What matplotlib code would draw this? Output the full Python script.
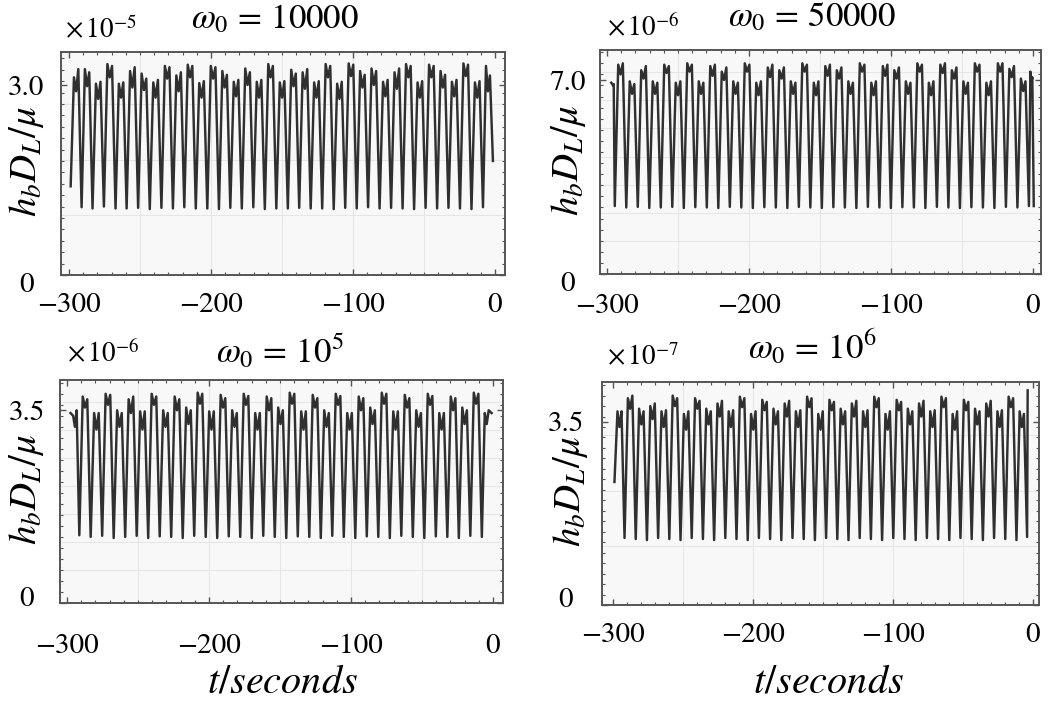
import matplotlib
matplotlib.use("Agg")
import matplotlib.pyplot as plt
from matplotlib.ticker import MultipleLocator
from matplotlib.transforms import ScaledTranslation

plt.rcParams["font.family"] = ["STIXGeneral", "DejaVu Serif"]
plt.rcParams["mathtext.fontset"] = "stix"

# ---------------------------------------------------------------- data
# Times (s) of the deep minima, and the strain value reached there.
# Between two minima the waveform has an "M"-shaped crest:
# left peak, central notch, right peak.

# omega_0 = 10000   (units of 1e-5)
w1_start = (-298.8, 1.40)
w1_end = (-1.5, 1.80)
w1_dip_t = [-291.1, -283.4, -275.4, -267.2, -259.4, -251.3, -243.1, -234.9,
            -226.8, -218.8, -210.7, -202.6, -194.4, -186.4, -178.3, -170.2,
            -162.1, -154.0, -145.9, -137.9, -129.8, -121.7, -113.6, -105.5,
            -97.4, -89.4, -81.3, -73.2, -65.1, -57.0, -48.9, -40.8,
            -32.8, -24.7, -16.6, -8.5]
w1_dip_y = [1.07, 1.05, 1.08, 1.05, 1.05, 1.06, 1.04, 1.06,
            1.05, 1.07, 1.05, 1.05, 1.04, 1.06, 1.05, 1.07,
            1.04, 1.05, 1.05, 1.06, 1.05, 1.05, 1.04, 1.06,
            1.05, 1.07, 1.05, 1.06, 1.05, 1.04, 1.06, 1.05,
            1.06, 1.05, 1.04, 1.07]
w1_peak_l = [3.12, 3.25, 3.02, 3.33, 3.02, 3.22, 3.18, 3.04, 3.30, 3.15,
             3.32, 3.03, 3.30, 3.22, 3.05, 3.26, 3.05, 3.33, 3.04, 3.24,
             3.20, 3.04, 3.33, 3.02, 3.34, 3.22, 3.26, 3.05, 3.20, 3.33,
             3.04, 3.32, 3.22, 3.05, 3.34, 3.04, 3.30]
w1_notch = [2.90, 2.98, 2.78, 3.12, 2.80, 2.96, 2.92, 2.80, 3.10, 2.90,
            3.12, 2.80, 3.10, 2.96, 2.82, 3.00, 2.80, 3.12, 2.80, 2.98,
            2.94, 2.80, 3.12, 2.78, 3.14, 2.96, 3.00, 2.82, 2.94, 3.12,
            2.80, 3.12, 2.96, 2.82, 3.14, 2.80, 2.90]
w1_peak_r = [3.25, 3.20, 3.05, 3.30, 3.04, 3.28, 3.10, 3.08, 3.28, 3.20,
             3.30, 3.06, 3.28, 3.16, 3.08, 3.20, 3.08, 3.30, 3.06, 3.18,
             3.25, 3.06, 3.30, 3.05, 3.32, 3.16, 3.22, 3.08, 3.26, 3.30,
             3.06, 3.30, 3.16, 3.08, 3.32, 3.06, 3.15]

# omega_0 = 50000   (units of 1e-6)
w2_start = (-297.0, 6.90)
w2_end = (0.5, 2.45)
w2_dip_t = [-294.5, -286.4, -278.3, -270.2, -262.1, -254.0, -245.9, -237.8,
            -229.7, -221.6, -213.5, -205.4, -197.3, -189.2, -181.1, -173.0,
            -164.9, -156.8, -148.7, -140.6, -132.5, -124.4, -116.3, -108.2,
            -100.1, -92.0, -83.9, -75.8, -67.7, -59.6, -51.5, -43.4,
            -35.3, -27.2, -19.1, -11.0, -2.9]
w2_dip_y = [2.45, 2.40, 2.42, 2.38, 2.40, 2.42, 2.38, 2.41,
            2.40, 2.38, 2.42, 2.40, 2.38, 2.41, 2.40, 2.38,
            2.42, 2.40, 2.38, 2.41, 2.40, 2.38, 2.42, 2.40,
            2.38, 2.41, 2.40, 2.38, 2.42, 2.40, 2.38, 2.41,
            2.40, 2.38, 2.42, 2.40, 2.45]
w2_peak_l = [6.85, 7.55, 6.95, 7.35, 6.95, 7.55, 6.90, 7.60, 6.95, 7.50,
             7.30, 6.95, 7.60, 6.90, 7.45, 7.35, 6.95, 7.60, 6.90, 7.50,
             7.35, 6.95, 7.60, 6.90, 7.50, 7.35, 6.95, 7.60, 6.90, 7.55,
             7.35, 6.95, 7.60, 6.90, 7.60, 7.40, 7.05, 7.30]
w2_notch = [6.80, 7.20, 6.50, 7.05, 6.50, 7.25, 6.45, 7.30, 6.50, 7.15,
            7.00, 6.50, 7.30, 6.45, 7.10, 7.05, 6.50, 7.30, 6.45, 7.15,
            7.05, 6.50, 7.30, 6.45, 7.15, 7.05, 6.50, 7.30, 6.45, 7.25,
            7.05, 6.50, 7.30, 6.45, 7.30, 7.10, 6.60, 6.90]
w2_peak_r = [6.85, 7.60, 6.85, 7.50, 6.90, 7.50, 6.95, 7.55, 6.90, 7.55,
             7.45, 6.90, 7.55, 6.95, 7.55, 7.45, 6.90, 7.55, 6.95, 7.55,
             7.45, 6.90, 7.55, 6.95, 7.55, 7.45, 6.90, 7.55, 6.95, 7.60,
             7.45, 6.90, 7.55, 6.95, 7.60, 7.50, 6.95, 7.10]

# omega_0 = 1e5   (units of 1e-6)
w3_start = (-297.5, 3.45)
w3_end = (-1.0, 3.45)
w3_dip_t = [-291.3, -283.3, -275.2, -267.1, -259.0, -250.9, -242.8, -234.7,
            -226.6, -218.5, -210.4, -202.3, -194.2, -186.1, -178.0, -169.9,
            -161.8, -153.7, -145.6, -137.5, -129.4, -121.3, -113.2, -105.1,
            -97.0, -88.9, -80.8, -72.7, -64.6, -56.5, -48.4, -40.3,
            -32.2, -24.1, -16.0, -7.9]
w3_dip_y = [1.23, 1.20, 1.22, 1.18, 1.20, 1.22, 1.18, 1.21,
            1.20, 1.18, 1.22, 1.20, 1.18, 1.21, 1.20, 1.18,
            1.22, 1.20, 1.18, 1.21, 1.20, 1.18, 1.22, 1.20,
            1.18, 1.21, 1.20, 1.18, 1.22, 1.20, 1.18, 1.21,
            1.20, 1.18, 1.22, 1.20]
w3_peak_l = [3.40, 3.75, 3.45, 3.80, 3.50, 3.70, 3.48, 3.80, 3.50, 3.75,
             3.55, 3.82, 3.48, 3.78, 3.50, 3.80, 3.45, 3.75, 3.55, 3.82,
             3.48, 3.78, 3.50, 3.80, 3.45, 3.75, 3.55, 3.82, 3.48, 3.78,
             3.50, 3.80, 3.45, 3.75, 3.55, 3.82, 3.45]
w3_notch = [3.20, 3.55, 3.15, 3.60, 3.20, 3.45, 3.15, 3.60, 3.20, 3.50,
            3.25, 3.62, 3.15, 3.55, 3.20, 3.60, 3.15, 3.50, 3.25, 3.62,
            3.15, 3.55, 3.20, 3.60, 3.15, 3.50, 3.25, 3.62, 3.15, 3.55,
            3.20, 3.60, 3.15, 3.50, 3.25, 3.62, 3.25]
w3_peak_r = [3.50, 3.70, 3.45, 3.78, 3.45, 3.75, 3.48, 3.75, 3.45, 3.70,
             3.50, 3.80, 3.48, 3.72, 3.45, 3.76, 3.45, 3.72, 3.50, 3.80,
             3.48, 3.72, 3.45, 3.76, 3.45, 3.72, 3.50, 3.80, 3.48, 3.72,
             3.45, 3.76, 3.45, 3.72, 3.50, 3.80, 3.50]

# omega_0 = 1e6   (units of 1e-7)
w4_start = (-299.0, 2.35)
w4_end = (-3.8, 4.10)
w4_dip_t = [-291.8, -283.8, -275.8, -267.8, -259.8, -251.8, -243.8, -235.8,
            -227.8, -219.8, -211.8, -203.8, -195.8, -187.8, -179.8, -171.8,
            -163.8, -155.8, -147.8, -139.8, -131.8, -123.8, -115.8, -107.8,
            -99.8, -91.8, -83.8, -75.8, -67.8, -59.8, -51.8, -43.8,
            -35.8, -27.8, -19.8, -11.8, -4.2]
w4_dip_y = [1.28, 1.26, 1.24, 1.28, 1.26, 1.24, 1.28, 1.26,
            1.24, 1.28, 1.26, 1.24, 1.28, 1.26, 1.24, 1.28,
            1.26, 1.24, 1.28, 1.26, 1.24, 1.28, 1.26, 1.24,
            1.28, 1.26, 1.24, 1.28, 1.26, 1.24, 1.28, 1.26,
            1.24, 1.28, 1.26, 1.24, 1.30]
w4_peak_l = [3.70, 3.95, 3.75, 3.80, 3.70, 4.00, 3.65, 3.95, 3.75, 3.85,
             3.70, 3.98, 3.65, 3.92, 3.75, 3.85, 3.70, 3.98, 3.65, 3.92,
             3.75, 3.85, 3.70, 3.98, 3.65, 3.92, 3.75, 3.85, 3.70, 3.98,
             3.65, 3.92, 3.75, 3.85, 3.70, 3.98, 3.70]
w4_notch = [3.40, 3.75, 3.45, 3.55, 3.40, 3.80, 3.35, 3.75, 3.45, 3.60,
            3.40, 3.78, 3.35, 3.72, 3.45, 3.60, 3.40, 3.78, 3.35, 3.72,
            3.45, 3.60, 3.40, 3.78, 3.35, 3.72, 3.45, 3.60, 3.40, 3.78,
            3.35, 3.72, 3.45, 3.60, 3.40, 3.78, 3.40]
w4_peak_r = [3.70, 4.00, 3.70, 3.85, 3.72, 3.95, 3.70, 3.90, 3.70, 3.90,
             3.72, 3.95, 3.70, 3.88, 3.70, 3.90, 3.72, 3.95, 3.70, 3.88,
             3.70, 3.90, 3.72, 3.95, 3.70, 3.88, 3.70, 3.90, 3.72, 3.95,
             3.70, 3.88, 3.70, 3.90, 3.72, 3.95, 3.65]

panel_titles = [r"$\omega_0\, =\, 10000$", r"$\omega_0\, =\, 50000$",
                r"$\omega_0\, =\, 10^5$", r"$\omega_0\, =\, 10^6$"]
panel_scales = [r"$\times\,10^{-5}$", r"$\times\,10^{-6}$",
                r"$\times\,10^{-6}$", r"$\times\,10^{-7}$"]
y_tick_values = [[0, 3.0], [0, 7.0], [0, 3.5], [0, 3.5]]
y_tick_labels = [["0", "3.0"], ["0", "7.0"], ["0", "3.5"], ["0", "3.5"]]
x_tick_values = [-300, -200, -100, 0]
x_tick_labels = ["\u2212300", "\u2212200", "\u2212100", "0"]


def waveform(start, end, dip_t, dip_y, peak_l, notch, peak_r):
    """Vertices of the crest/trough trace, crest points spread inside each
    interval between consecutive minima."""
    edges = [start[0]] + list(dip_t) + [end[0]]
    ts, ys = [start[0]], [start[1]]
    for i in range(len(peak_l)):
        a, b = edges[i], edges[i + 1]
        w = b - a
        ts += [a + 0.30 * w, a + 0.50 * w, a + 0.70 * w]
        ys += [peak_l[i], notch[i], peak_r[i]]
        if i < len(dip_t):
            ts.append(dip_t[i])
            ys.append(dip_y[i])
    ts.append(end[0])
    ys.append(end[1])
    return ts, ys


series = [
    (w1_start, w1_end, w1_dip_t, w1_dip_y, w1_peak_l, w1_notch, w1_peak_r),
    (w2_start, w2_end, w2_dip_t, w2_dip_y, w2_peak_l, w2_notch, w2_peak_r),
    (w3_start, w3_end, w3_dip_t, w3_dip_y, w3_peak_l, w3_notch, w3_peak_r),
    (w4_start, w4_end, w4_dip_t, w4_dip_y, w4_peak_l, w4_notch, w4_peak_r),
]

# ---------------------------------------------------------------- layout
fig = plt.figure(figsize=(10.6, 7.07), dpi=100)
W, H = 1060.0, 707.0

# axes boxes in pixels: left, top, right, bottom
boxes = [(61, 52, 505, 275), (600, 50, 1041, 274),
         (60, 380, 503, 603), (602, 382, 1039, 605)]
xlims = [(-305.6, 7.0), (-304.9, 5.6), (-304.9, 7.0), (-307.9, 4.3)]
ylims = [(0, 3.52), (0, 8.08), (0, 4.05), (0, 4.26)]
grid_y = [[0.95, 1.82, 2.70],
          [1.19, 2.20, 3.21, 4.22, 5.27, 6.28, 7.30],
          [0.60, 1.11, 1.62, 2.13, 2.63, 3.14, 3.65],
          [1.13, 2.18, 3.25]]
minor_y = [0.18, 0.4, 0.2, 0.2]
xpad = [13, 14, 22, 13]          # points
ypad = [25, 23, 24, 26]          # points, to the label centre
zero_shift = [-5.0, -5.5, 4.5, 5.5]  # vertical nudge of the "0" label, points

title_pos = [(275, 20), (812, 18), (280, 352), (812, 348)]
scale_pos = [(65, 30), (607, 28), (67, 354), (607, 358)]
ylabel_x = [26, 569, 26, 571]

for k in range(4):
    l, t, r, b = boxes[k]
    ax = fig.add_axes([l / W, 1 - b / H, (r - l) / W, (b - t) / H])
    ax.set_facecolor("#f8f8f8")
    ts, ys = waveform(*series[k])
    ax.plot(ts, ys, color="#303030", lw=1.75, solid_joinstyle="round")
    ax.set_xlim(*xlims[k])
    ax.set_ylim(*ylims[k])

    for s in ax.spines.values():
        s.set_color("#555555")
        s.set_linewidth(1.4)

    ax.set_xticks(x_tick_values)
    ax.set_xticklabels(x_tick_labels)
    ax.xaxis.set_minor_locator(MultipleLocator(10))
    ax.set_yticks(y_tick_values[k])
    ax.set_yticklabels(y_tick_labels[k])
    ax.yaxis.set_minor_locator(MultipleLocator(minor_y[k]))
    ax.tick_params(which="both", direction="in", top=True, right=True,
                   color="#555555", labelsize=21)
    ax.tick_params(which="major", length=4, width=1.0)
    ax.tick_params(which="minor", length=2.5, width=0.8)
    ax.tick_params(axis="x", pad=xpad[k])
    ax.tick_params(axis="y", pad=ypad[k])
    for lab in ax.get_yticklabels():
        lab.set_horizontalalignment("center")
    zero_lab = ax.yaxis.get_major_ticks()[0].label1
    zero_lab.set_transform(zero_lab.get_transform() +
                           ScaledTranslation(0, zero_shift[k] / 72,
                                             fig.dpi_scale_trans))

    for gx in [-250, -200, -150, -100, -50]:
        ax.axvline(gx, color="#e6e6e6", lw=0.8, zorder=0)
    for gy in grid_y[k]:
        ax.axhline(gy, color="#e6e6e6", lw=0.8, zorder=0)

    fig.text(title_pos[k][0] / W, 1 - title_pos[k][1] / H, panel_titles[k],
             ha="center", va="center", fontsize=25)
    fig.text(scale_pos[k][0] / W, 1 - scale_pos[k][1] / H, panel_scales[k],
             ha="left", va="center", fontsize=19.5)
    fig.text(ylabel_x[k] / W, 1 - ((t + b) / 2 - 2) / H, r"$h_b D_L/\mu$",
             ha="center", va="center", rotation=90, fontsize=28)

fig.text(282 / W, 1 - 683 / H, r"$t/seconds$", ha="center", va="center",
         fontsize=29)
fig.text(828 / W, 1 - 683 / H, r"$t/seconds$", ha="center", va="center",
         fontsize=29)

fig.savefig("out.png", dpi=100, facecolor="white")
